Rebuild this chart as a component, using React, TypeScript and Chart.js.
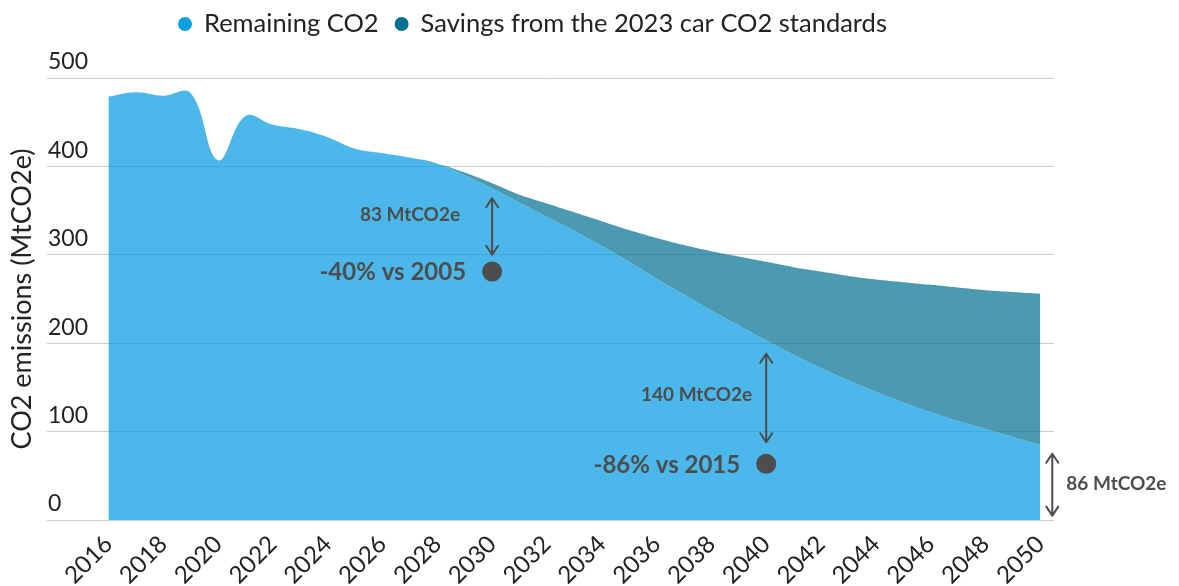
import React, { useEffect, useRef } from 'react';
import { Chart, registerables } from 'chart.js';

Chart.register(...registerables);

// ---- Data ----
const years = [
  2016, 2017, 2018, 2019, 2020, 2021, 2022, 2023, 2024, 2025, 2026, 2027,
  2028, 2029, 2030, 2031, 2032, 2033, 2034, 2035, 2036, 2037, 2038, 2039,
  2040, 2041, 2042, 2043, 2044, 2045, 2046, 2047, 2048, 2049, 2050,
];
const remainingCO2 = [
  479, 484, 480, 483, 407, 457, 447, 442, 433, 420, 415, 410,
  403, 390, 375, 359, 343, 327, 310, 292, 273, 255, 237, 220,
  203, 187, 172, 158, 145, 133, 122, 112, 103, 94, 85,
];
const savingsCO2 = [
  0, 0, 0, 0, 0, 0, 0, 0, 0, 0, 0, 0,
  0, 3, 6, 9, 15, 21, 28, 36, 46, 56, 67, 78,
  89, 99, 109, 118, 127, 136, 144, 151, 157, 164, 171,
];
const xTickYears = [
  2016, 2018, 2020, 2022, 2024, 2026, 2028, 2030, 2032, 2034, 2036, 2038,
  2040, 2042, 2044, 2046, 2048, 2050,
];
const yTickValues = [0, 100, 200, 300, 400, 500];
const seriesNames = ['Remaining CO2', 'Savings from the 2023 car CO2 standards'];
const yAxisTitle = 'CO2 emissions (MtCO2e)';

// annotations (data coordinates)
const gapYears = [2030, 2040, 2050];
const gapTop = [364, 188, 75];
const gapBottom = [300, 88, 5];
const gapLabels = ['83 MtCO2e', '140 MtCO2e', '86 MtCO2e'];
const gapLabelValues = [345, 142, 41];
const targetYears = [2030, 2040];
const targetValues = [281, 63.5];
const targetLabels = ['-40% vs 2005', '-86% vs 2015'];

// ---- Styles ----
const FONT = 'Lato, "Noto Sans", sans-serif';
const TEXT = '#222222';
const ANNOT = '#4d4d4d';
const REMAIN_FILL = 'rgba(0,152,225,0.7)';
const SAVE_FILL = 'rgba(0,111,146,0.7)';
const REMAIN_DOT = '#0aa0e0';
const SAVE_DOT = '#006f94';
const arrowDx = [0, 0, 12];
const labelDx = [-32, -14, 14];
const labelAlign: CanvasTextAlign[] = ['right', 'right', 'left'];

const annotationPlugin = {
  id: 'co2Annotations',
  afterDatasetsDraw(chart: any) {
    const { ctx } = chart;
    const xs = chart.scales.x;
    const ys = chart.scales.y;
    ctx.save();
    ctx.strokeStyle = ANNOT;
    ctx.fillStyle = ANNOT;
    ctx.lineWidth = 2;
    ctx.lineCap = 'round';
    ctx.lineJoin = 'round';
    gapYears.forEach((yr, i) => {
      const px = xs.getPixelForValue(yr) + arrowDx[i];
      const t = ys.getPixelForValue(gapTop[i]);
      const b = ys.getPixelForValue(gapBottom[i]);
      ctx.beginPath();
      ctx.moveTo(px, t);
      ctx.lineTo(px, b);
      ctx.moveTo(px - 6, t + 9);
      ctx.lineTo(px, t);
      ctx.lineTo(px + 6, t + 9);
      ctx.moveTo(px - 6, b - 9);
      ctx.lineTo(px, b);
      ctx.lineTo(px + 6, b - 9);
      ctx.stroke();
      ctx.font = 'bold 19px ' + FONT;
      ctx.textAlign = labelAlign[i];
      ctx.textBaseline = 'middle';
      ctx.fillText(gapLabels[i], px + labelDx[i], ys.getPixelForValue(gapLabelValues[i]));
    });
    targetYears.forEach((yr, i) => {
      const px = xs.getPixelForValue(yr);
      const py = ys.getPixelForValue(targetValues[i]);
      ctx.beginPath();
      ctx.arc(px, py, 10, 0, Math.PI * 2);
      ctx.fill();
      ctx.font = 'bold 24px ' + FONT;
      ctx.textAlign = 'right';
      ctx.textBaseline = 'middle';
      ctx.fillText(targetLabels[i], px - 26, py + 1);
    });
    ctx.restore();
  },
};

const legendPlugin = {
  id: 'co2Legend',
  afterDraw(chart: any) {
    const { ctx } = chart;
    const colors = [REMAIN_DOT, SAVE_DOT];
    ctx.save();
    ctx.font = '25.5px ' + FONT;
    ctx.textBaseline = 'middle';
    ctx.textAlign = 'left';
    let x = 178;
    const y = 24;
    seriesNames.forEach((name, i) => {
      ctx.fillStyle = colors[i];
      ctx.beginPath();
      ctx.arc(x + 7, y, 7, 0, Math.PI * 2);
      ctx.fill();
      ctx.fillStyle = TEXT;
      ctx.fillText(name, x + 26, y);
      x += 26 + ctx.measureText(name).width + 16;
    });
    ctx.restore();
  },
};

export default function App() {
  const ref = useRef<HTMLCanvasElement | null>(null);

  useEffect(() => {
    if (!ref.current) return;
    const chart = new Chart(ref.current, {
      type: 'line',
      data: {
        datasets: [
          {
            label: seriesNames[0],
            data: years.map((yr, i) => ({ x: yr, y: remainingCO2[i] })),
            backgroundColor: REMAIN_FILL,
            borderColor: 'rgba(0,0,0,0)',
            borderWidth: 0,
            pointRadius: 0,
            fill: 'origin',
            tension: 0.4,
          },
          {
            label: seriesNames[1],
            data: years.map((yr, i) => ({ x: yr, y: savingsCO2[i] })),
            backgroundColor: SAVE_FILL,
            borderColor: 'rgba(0,0,0,0)',
            borderWidth: 0,
            pointRadius: 0,
            fill: '-1',
            tension: 0.4,
          },
        ],
      },
      options: {
        animation: false,
        responsive: false,
        layout: { padding: { top: 78, right: 125, left: 0, bottom: 0 } },
        plugins: {
          legend: { display: false },
          tooltip: { enabled: false },
        },
        scales: {
          x: {
            type: 'linear',
            min: 2013.76,
            max: 2050.5,
            grid: { display: false },
            border: { display: false },
            afterBuildTicks: (scale: any) => {
              scale.ticks = xTickYears.map((v) => ({ value: v }));
            },
            afterFit: (scale: any) => {
              scale.height = 66;
            },
            ticks: {
              autoSkip: false,
              minRotation: 45,
              maxRotation: 45,
              padding: 2,
              color: TEXT,
              font: { family: FONT, size: 24 },
              callback: (v: any) => String(v),
            },
          },
          y: {
            stacked: true,
            min: 0,
            max: 500,
            afterBuildTicks: (scale: any) => {
              scale.ticks = yTickValues.map((v) => ({ value: v }));
            },
            afterFit: (scale: any) => {
              scale.width = 47;
            },
            grid: { color: '#cccccc', lineWidth: 1, drawTicks: false },
            border: { display: false },
            title: {
              display: true,
              text: yAxisTitle,
              color: TEXT,
              font: { family: FONT, size: 27 },
              padding: { top: 6, bottom: 0 },
            },
            ticks: {
              mirror: true,
              crossAlign: 'near',
              padding: 1,
              labelOffset: -16,
              color: TEXT,
              font: { family: FONT, size: 23 },
              callback: (v: any) => String(v),
            },
          },
        },
      },
      plugins: [annotationPlugin, legendPlugin],
    } as any);
    return () => chart.destroy();
  }, []);

  return (
    <div style={{ position: 'fixed', left: 0, top: 0, width: 1179, height: 586, background: '#fff' }}>
      <canvas ref={ref} width={1179} height={586} style={{ display: 'block' }} />
    </div>
  );
}
